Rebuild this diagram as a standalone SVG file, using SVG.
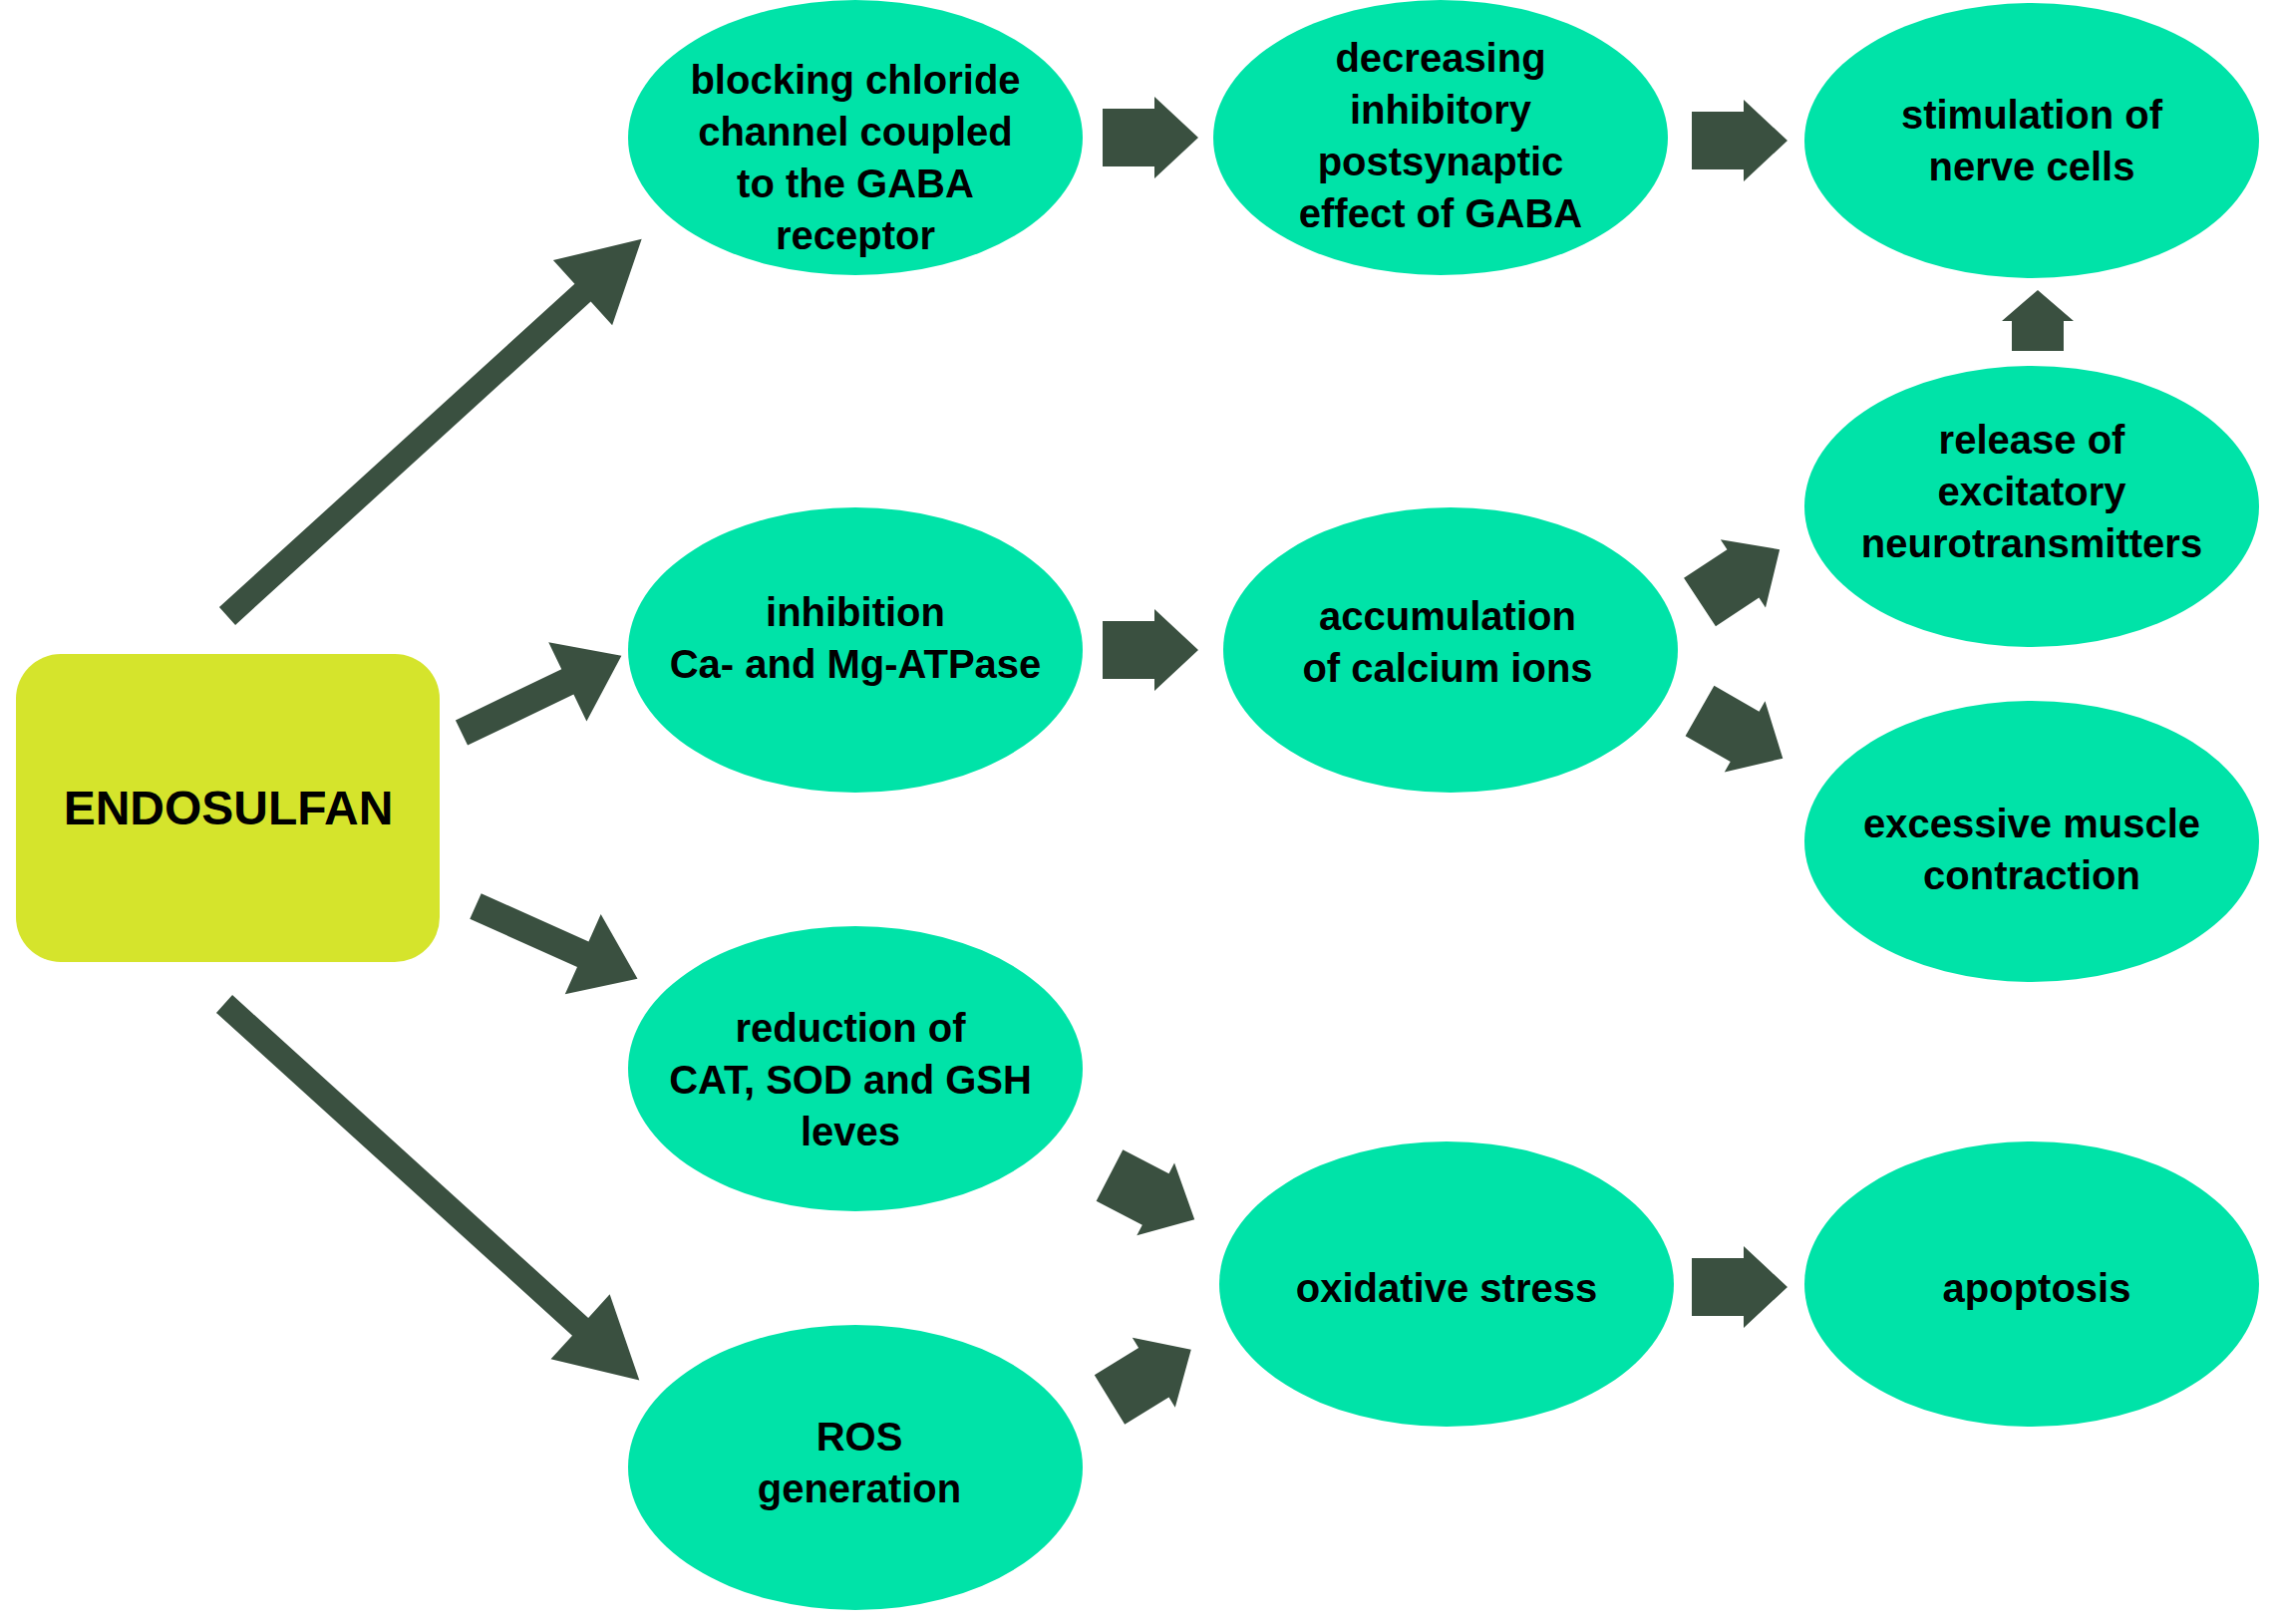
<svg xmlns="http://www.w3.org/2000/svg" width="2281" height="1629" viewBox="0 0 2281 1629">
<style>
ellipse{fill:#00e3a8}
text{font-family:"Liberation Sans",Arial,sans-serif;font-weight:bold;font-size:40px;fill:#000;text-anchor:middle}
.ar{fill:#3a5040}
</style>
<defs>
<path id="fat" d="M0,-29 L52,-29 L52,-41 L96,0 L52,41 L52,29 L0,29Z"/>
<path id="long" d="M0,-12 L482,-12 L482,-44 L562,0 L482,44 L482,12 L0,12Z"/>
<path id="med" d="M0,-14 L118,-14 L118,-44 L178,0 L118,44 L118,14 L0,14Z"/>
<path id="up" d="M0,-26 L30,-26 L30,-36 L61,0 L30,36 L30,26 L0,26Z"/>
</defs>
<rect width="2281" height="1629" fill="#fff"/>
<g id="connectors" class="ar">
<use href="#long" transform="translate(228,618) rotate(-42.3)"/>
<use href="#long" transform="translate(225,1007) rotate(42.2)"/>
<use href="#med" transform="translate(463,735) rotate(-25.7)"/>
<use href="#med" transform="translate(477,909) rotate(24.1)"/>
<use href="#fat" transform="translate(1106,138)"/>
<use href="#fat" transform="translate(1697,141)"/>
<use href="#up" transform="translate(2044,352) rotate(-90)"/>
<use href="#fat" transform="translate(1106,652)"/>
<use href="#fat" transform="translate(1705,604) rotate(-33.4)"/>
<use href="#fat" transform="translate(1705,713) rotate(29.8)"/>
<use href="#fat" transform="translate(1113,1179) rotate(27.4)"/>
<use href="#fat" transform="translate(1113,1404) rotate(-31.6)"/>
<use href="#fat" transform="translate(1697,1291)"/>
</g>
<g id="endosulfan"><rect x="16" y="656" width="425" height="309" rx="45" fill="#d5e42c"/><text x="229" y="827" style="font-size:48px">ENDOSULFAN</text></g>
<g id="blocking"><ellipse cx="858" cy="138" rx="228" ry="138"/><text x="858" y="94">blocking chloride</text><text x="858" y="146">channel coupled</text><text x="858" y="198">to the GABA</text><text x="858" y="250">receptor</text></g>
<g id="decreasing"><ellipse cx="1445" cy="138" rx="228" ry="138"/><text x="1445" y="72">decreasing</text><text x="1445" y="124">inhibitory</text><text x="1445" y="176">postsynaptic</text><text x="1445" y="228">effect of GABA</text></g>
<g id="stimulation"><ellipse cx="2038" cy="141" rx="228" ry="138"/><text x="2038" y="129">stimulation of</text><text x="2038" y="181">nerve cells</text></g>
<g id="release"><ellipse cx="2038" cy="508" rx="228" ry="141"/><text x="2038" y="455">release of</text><text x="2038" y="507">excitatory</text><text x="2038" y="559">neurotransmitters</text></g>
<g id="excessive"><ellipse cx="2038" cy="844" rx="228" ry="141"/><text x="2038" y="840">excessive muscle</text><text x="2038" y="892">contraction</text></g>
<g id="inhibition"><ellipse cx="858" cy="652" rx="228" ry="143"/><text x="858" y="628">inhibition</text><text x="858" y="680">Ca- and Mg-ATPase</text></g>
<g id="accumulation"><ellipse cx="1455" cy="652" rx="228" ry="143"/><text x="1452" y="632">accumulation</text><text x="1452" y="684">of calcium ions</text></g>
<g id="reduction"><ellipse cx="858" cy="1072" rx="228" ry="143"/><text x="853" y="1045">reduction of</text><text x="853" y="1097">CAT, SOD and GSH</text><text x="853" y="1149">leves</text></g>
<g id="ros"><ellipse cx="858" cy="1472" rx="228" ry="143"/><text x="862" y="1455">ROS</text><text x="862" y="1507">generation</text></g>
<g id="oxidative"><ellipse cx="1451" cy="1288" rx="228" ry="143"/><text x="1451" y="1306">oxidative stress</text></g>
<g id="apoptosis"><ellipse cx="2038" cy="1288" rx="228" ry="143"/><text x="2043" y="1306">apoptosis</text></g>
</svg>
